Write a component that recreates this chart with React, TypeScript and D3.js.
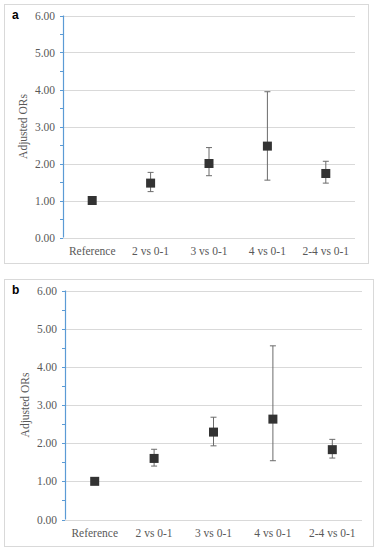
import React from 'react';
import * as d3 from 'd3';

const categories = ['Reference', '2 vs 0-1', '3 vs 0-1', '4 vs 0-1', '2-4 vs 0-1'];
const yTicks = [0, 1, 2, 3, 4, 5, 6];

const orsA = [1.0, 1.47, 2.0, 2.47, 1.73];
const lowA = [1.0, 1.24, 1.67, 1.55, 1.47];
const highA = [1.0, 1.76, 2.43, 3.94, 2.06];

const orsB = [1.0, 1.6, 2.29, 2.63, 1.83];
const lowB = [1.0, 1.4, 1.93, 1.54, 1.61];
const highB = [1.0, 1.84, 2.68, 4.55, 2.1];

const serif = '"Liberation Serif", "Times New Roman", serif';
const textGray = '#595959';

const Panel = ({ label, ors, low, high, box, plot }) => {
  const x = d3.scaleBand().domain(categories).range([plot.left, plot.right]);
  const y = d3.scaleLinear().domain([0, 6]).range([plot.bottom, plot.top]);
  const minor = d3.range(0, 6.01, 0.5);
  const sq = 9;
  return (
    <g>
      <rect x={box.x + 0.5} y={box.y + 0.5} width={box.w} height={box.h} fill="white" stroke="#d9d9d9" />
      <text x={box.x + 8} y={box.y + 15} fontFamily='"Liberation Sans", Arial, sans-serif' fontWeight="bold" fontSize={12} fill="#000">{label}</text>
      {yTicks.map(t => (
        <g key={t}>
          {t > 0 && <line x1={plot.left} x2={plot.right} y1={Math.round(y(t)) + 0.5} y2={Math.round(y(t)) + 0.5} stroke="#d9d9d9" />}
          <text x={plot.left - 8} y={y(t) + 4} textAnchor="end" fontFamily={serif} fontSize={11.5} fill={textGray}>{t.toFixed(2)}</text>
        </g>
      ))}
      <line x1={plot.left} x2={plot.right} y1={Math.round(y(0)) + 0.5} y2={Math.round(y(0)) + 0.5} stroke="#d9d9d9" />
      {minor.map(t => (
        <line key={t} x1={plot.left - 3} x2={plot.left} y1={Math.round(y(t)) + 0.5} y2={Math.round(y(t)) + 0.5} stroke="#5b9bd5" />
      ))}
      <line x1={plot.left + 0.5} x2={plot.left + 0.5} y1={y(6)} y2={y(0)} stroke="#5b9bd5" strokeWidth={1.2} />
      <text transform={`translate(${plot.left - 36},${(plot.top + plot.bottom) / 2}) rotate(-90)`} textAnchor="middle" fontFamily={serif} fontSize={11.5} fill={textGray}>Adjusted ORs</text>
      {categories.map((c, i) => {
        const cx = x(c) + x.bandwidth() / 2;
        return (
          <g key={c}>
            {high[i] > low[i] && (
              <g stroke="#6b6b6b" strokeWidth={1}>
                <line x1={cx} x2={cx} y1={y(high[i])} y2={y(low[i])} />
                <line x1={cx - 3} x2={cx + 3} y1={y(high[i])} y2={y(high[i])} />
                <line x1={cx - 3} x2={cx + 3} y1={y(low[i])} y2={y(low[i])} />
              </g>
            )}
            <rect x={cx - sq / 2} y={y(ors[i]) - sq / 2} width={sq} height={sq} fill="#333333" />
            <text x={cx} y={plot.bottom + 17} textAnchor="middle" fontFamily={serif} fontSize={11.5} fill={textGray}>{c}</text>
          </g>
        );
      })}
    </g>
  );
};

export default function App() {
  return (
    <svg width={378} height={550} style={{ position: 'absolute', left: 0, top: 0, background: 'white' }}>
      <Panel label="a" ors={orsA} low={lowA} high={highA}
        box={{ x: 4, y: 4, w: 364, h: 259 }}
        plot={{ left: 63, right: 355, top: 15.5, bottom: 237.5 }} />
      <Panel label="b" ors={orsB} low={lowB} high={highB}
        box={{ x: 4, y: 279, w: 369, h: 267 }}
        plot={{ left: 65, right: 362, top: 290.5, bottom: 519.5 }} />
    </svg>
  );
}
